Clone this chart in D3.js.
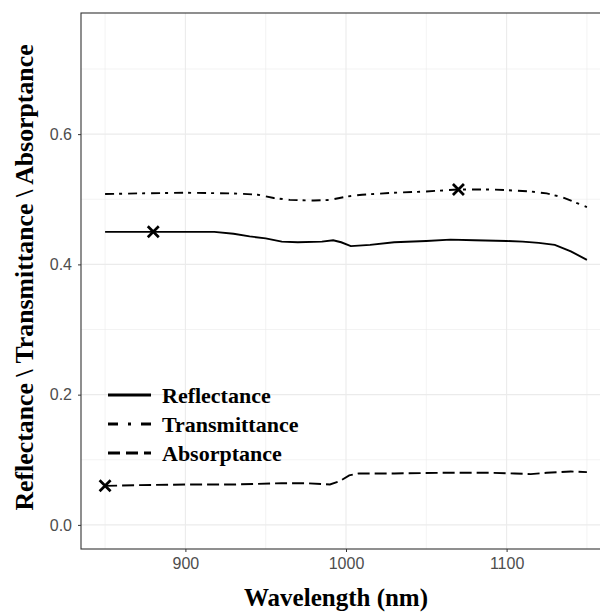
<html>
<style>
  body { margin: 0; background: #fff; }
  .tick text { font: 16px "Liberation Sans", Arial, sans-serif; fill: #4D4D4D; }
  .tick line { stroke: #333; }
  .domain { display: none; }
  .ttl { font-family: "Liberation Serif", "Times New Roman", serif; font-weight: bold; fill: #000; }
</style>
<body>
<script src="https://d3js.org/d3.v7.min.js"></script>
<script>
// values
const reflWl  = [850, 900, 918, 930, 940, 950, 960, 970, 985, 992, 997, 1003, 1015, 1030, 1050, 1065, 1080, 1100, 1110, 1120, 1130, 1140, 1150];
const reflVal = [0.450, 0.450, 0.450, 0.447, 0.443, 0.440, 0.435, 0.434, 0.435, 0.437, 0.434, 0.428, 0.430, 0.434, 0.436, 0.438, 0.437, 0.436, 0.435, 0.433, 0.430, 0.420, 0.407];

const transWl  = [850, 870, 900, 930, 945, 955, 965, 980, 990, 1000, 1010, 1030, 1050, 1070, 1090, 1100, 1115, 1125, 1135, 1143, 1150];
const transVal = [0.508, 0.509, 0.510, 0.509, 0.507, 0.502, 0.499, 0.498, 0.499, 0.504, 0.507, 0.510, 0.512, 0.515, 0.515, 0.514, 0.512, 0.509, 0.503, 0.495, 0.488];

const absWl  = [850, 870, 900, 930, 960, 975, 990, 996, 1002, 1008, 1030, 1060, 1090, 1105, 1115, 1125, 1140, 1150];
const absVal = [0.060, 0.061, 0.062, 0.062, 0.064, 0.064, 0.062, 0.067, 0.076, 0.079, 0.079, 0.080, 0.080, 0.079, 0.078, 0.080, 0.082, 0.081];

const markWl  = [850, 880, 1070];
const markVal = [0.060, 0.450, 0.515];

const seriesNames = ["Reflectance", "Transmittance", "Absorptance"];
const xTicks = [900, 1000, 1100], xMinor = [850, 950, 1050, 1150];
const yTicks = [0, 0.2, 0.4, 0.6], yMinor = [0.1, 0.3, 0.5, 0.7];

const W = 600, H = 614;
const P = {left: 81, top: 13, right: 611, bottom: 549};

const svg = d3.select("body").append("svg")
    .attr("width", W).attr("height", H);

const x = d3.scaleLinear().domain([835, 1165]).range([P.left, P.right]);
const y = d3.scaleLinear().domain([-0.037, 0.786]).range([P.bottom, P.top]);

svg.append("clipPath").attr("id", "clip")
  .append("rect").attr("x", P.left).attr("y", P.top)
  .attr("width", P.right - P.left).attr("height", P.bottom - P.top);

const panel = svg.append("g").attr("clip-path", "url(#clip)");

// grid
panel.selectAll(".gx").data(xMinor.concat(xTicks)).join("line")
  .attr("x1", x).attr("x2", x).attr("y1", P.top).attr("y2", P.bottom)
  .attr("stroke", "#EBEBEB").attr("stroke-width", d => xTicks.includes(d) ? 1.1 : 0.6);
panel.selectAll(".gy").data(yMinor.concat(yTicks)).join("line")
  .attr("y1", y).attr("y2", y).attr("x1", P.left).attr("x2", P.right)
  .attr("stroke", "#EBEBEB").attr("stroke-width", d => yTicks.includes(d) ? 1.1 : 0.6);

const line = d3.line().x(d => x(d[0])).y(d => y(d[1]));
const dashes = {Reflectance: null, Transmittance: "9,5,3,6", Absorptance: "12,5"};
const data = {
  Reflectance: d3.zip(reflWl, reflVal),
  Transmittance: d3.zip(transWl, transVal),
  Absorptance: d3.zip(absWl, absVal)
};
seriesNames.forEach(n => {
  panel.append("path").datum(data[n])
    .attr("d", line).attr("fill", "none").attr("stroke", "#000")
    .attr("stroke-width", 1.9).attr("stroke-dasharray", dashes[n]);
});

// x markers
const s = 5.5;
panel.selectAll(".mk").data(d3.zip(markWl, markVal)).join("path")
  .attr("d", d => `M${x(d[0]) - s},${y(d[1]) - s}L${x(d[0]) + s},${y(d[1]) + s}M${x(d[0]) - s},${y(d[1]) + s}L${x(d[0]) + s},${y(d[1]) - s}`)
  .attr("stroke", "#000").attr("stroke-width", 2.7);

// border
svg.append("rect").attr("x", P.left).attr("y", P.top)
  .attr("width", P.right - P.left).attr("height", P.bottom - P.top)
  .attr("fill", "none").attr("stroke", "#333").attr("stroke-width", 1.1);

// axes
svg.append("g").attr("transform", `translate(0,${P.bottom})`)
  .call(d3.axisBottom(x).tickValues(xTicks).tickSize(3).tickPadding(6).tickFormat(d3.format("d")));
svg.append("g").attr("transform", `translate(${P.left},0)`)
  .call(d3.axisLeft(y).tickValues(yTicks).tickSize(3).tickPadding(6).tickFormat(d3.format(".1f")));

// titles
svg.append("text").attr("class", "ttl").attr("x", 336).attr("y", 606)
  .attr("text-anchor", "middle").attr("font-size", 25).text("Wavelength (nm)");
svg.append("text").attr("class", "ttl")
  .attr("transform", "translate(33,277.5) rotate(-90)")
  .attr("text-anchor", "middle").attr("font-size", 25.8)
  .text("Reflectance \\ Transmittance \\ Absorptance");

// legend
const legDash = {Reflectance: null, Transmittance: "10,10,3,10", Absorptance: "12,6"};
const legY = d3.scalePoint().domain(seriesNames).range([395, 453]);
const leg = svg.append("g");
seriesNames.forEach(n => {
  leg.append("line").attr("x1", 108).attr("x2", 151)
    .attr("y1", legY(n)).attr("y2", legY(n))
    .attr("stroke", "#000").attr("stroke-width", 2.8).attr("stroke-dasharray", legDash[n]);
  leg.append("text").attr("class", "ttl").attr("x", 162).attr("y", legY(n) + 7.5)
    .attr("font-size", 22).text(n);
});
</script>
</body>
</html>
